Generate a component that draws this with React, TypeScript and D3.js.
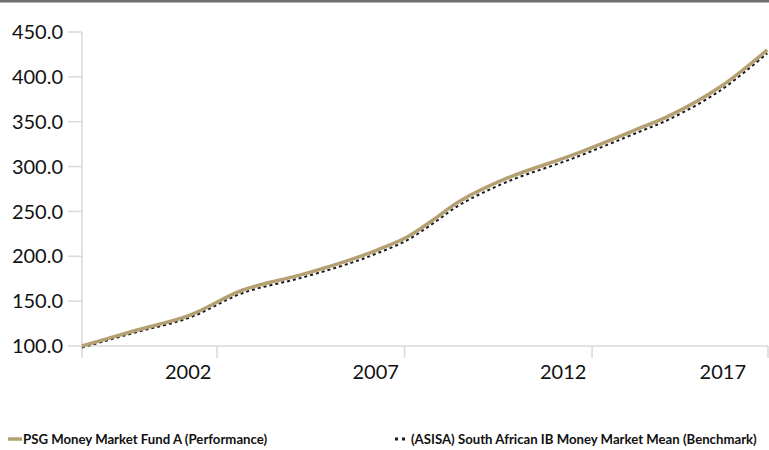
import React from "react";
import * as d3 from "d3";

const years = [1999.2, 2000.6, 2002.08, 2003.49, 2005.01, 2006.35, 2007.07, 2007.87, 2008.56, 2009.28, 2010.53, 2012.29, 2014.08, 2014.88, 2016.21, 2017.47];
const fund = [100, 117, 134.5, 162.4, 179, 196, 207, 221.5, 240.5, 261.6, 287, 313, 343, 357, 388.7, 430];
const bench = [100, 116.5, 133.5, 160.8, 177.3, 194, 205, 219.6, 238.3, 259.2, 284.6, 310.8, 340.8, 354.8, 386.2, 428];
const yTicks = [100, 150, 200, 250, 300, 350, 400, 450];
const xLabels = [2002, 2007, 2012, 2017];
const seriesNames = ["PSG Money Market Fund A (Performance)", "(ASISA) South African IB Money Market Mean (Benchmark)"];

const W = 769, H = 450;
const FONT = "Lato, 'Open Sans', sans-serif";

export default function App() {
  const x = d3.scaleLinear().domain([1999.2, 2017.49]).range([82, 768]);
  const y = d3.scaleLinear().domain([100, 450]).range([346, 32]);
  const line = d3.line<number>().x((_, i) => x(years[i])).y((v) => y(v)).curve(d3.curveCatmullRom.alpha(0.5));
  const axisColor = "#d9d9d9";
  const tickPos = [2002.8, 2007.8, 2012.8, 2017.49];
  return (
    <svg width={W} height={H} style={{ position: "absolute", left: 0, top: 0, background: "#fff" }}>
      <rect x={0} y={0} width={W} height={2.5} fill="#6d7073" />
      {/* y axis */}
      <line x1={82} x2={82} y1={y(450)} y2={358} stroke={axisColor} strokeWidth={1.5} />
      {yTicks.map((t) => (
        <g key={t}>
          <line x1={68} x2={82} y1={y(t)} y2={y(t)} stroke={axisColor} strokeWidth={1.5} />
          <text x={63} y={y(t)} dy="0.36em" textAnchor="end" fontFamily={FONT} fontSize={20} fill="#111">
            {t.toFixed(1)}
          </text>
        </g>
      ))}
      {/* x axis */}
      <line x1={82} x2={768} y1={y(100)} y2={y(100)} stroke={axisColor} strokeWidth={1.5} />
      {tickPos.map((t) => (
        <line key={t} x1={x(t)} x2={x(t)} y1={y(100)} y2={358} stroke={axisColor} strokeWidth={1.5} />
      ))}
      {xLabels.map((l, i) => (
        <text
          key={l}
          x={i === xLabels.length - 1 ? 746 : x(l + 0.03)}
          y={379}
          textAnchor={i === xLabels.length - 1 ? "end" : "middle"}
          fontFamily={FONT}
          fontSize={20}
          fill="#111"
        >
          {l}
        </text>
      ))}
      {/* series */}
      <path d={line(bench) || ""} fill="none" stroke="#1a1a1a" strokeWidth={2} strokeDasharray="3,3" transform="translate(0,1.5)" />
      <path d={line(fund) || ""} fill="none" stroke="#b4a072" strokeWidth={3.5} />
      {/* legend */}
      <line x1={8} x2={22} y1={439} y2={439} stroke="#b4a072" strokeWidth={3.5} />
      <text x={23} y={444} fontFamily={FONT} fontSize={13.2} fontWeight={700} fill="#111">
        {seriesNames[0]}
      </text>
      <line x1={395} x2={406} y1={439} y2={439} stroke="#1a1a1a" strokeWidth={3} strokeDasharray="3,4" />
      <text x={411} y={444} fontFamily={FONT} fontSize={13.2} fontWeight={700} fill="#111">
        {seriesNames[1]}
      </text>
    </svg>
  );
}
